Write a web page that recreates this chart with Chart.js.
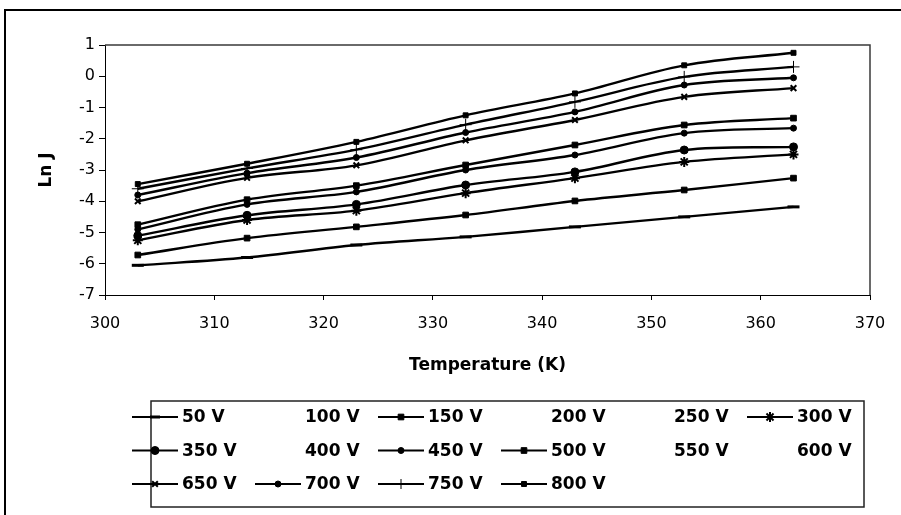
<!DOCTYPE html>
<html>
<head>
<meta charset="utf-8">
<script src="https://cdn.jsdelivr.net/npm/chart.js@4.4.0/dist/chart.umd.min.js"></script>
<style>
  html, body { margin: 0; padding: 0; background: #fff; }
  #wrap { width: 901px; height: 515px; position: relative; }
</style>
</head>
<body>
<div id="wrap"><canvas id="chart" width="901" height="515"></canvas></div>
<script>
// Temperatures at which the current density was measured (K)
const temperatures = [303, 313, 323, 333, 343, 353, 363];

// Applied voltages, in legend order
const voltageLabels = ['50 V', '100 V', '150 V', '200 V', '250 V', '300 V',
                       '350 V', '400 V', '450 V', '500 V', '550 V', '600 V',
                       '650 V', '700 V', '750 V', '800 V'];

// ln J for each voltage (series without measurements stay empty)
const lnJ_50V  = [-6.05, -5.80, -5.40, -5.14, -4.82, -4.50, -4.18];
const lnJ_100V = [];
const lnJ_150V = [-5.72, -5.18, -4.82, -4.44, -3.99, -3.64, -3.26];
const lnJ_200V = [];
const lnJ_250V = [];
const lnJ_300V = [-5.25, -4.60, -4.30, -3.74, -3.26, -2.74, -2.50];
const lnJ_350V = [-5.10, -4.45, -4.10, -3.48, -3.06, -2.36, -2.26];
const lnJ_400V = [];
const lnJ_450V = [-4.90, -4.10, -3.70, -3.00, -2.52, -1.82, -1.66];
const lnJ_500V = [-4.75, -3.95, -3.50, -2.84, -2.20, -1.56, -1.34];
const lnJ_550V = [];
const lnJ_600V = [];
const lnJ_650V = [-4.00, -3.25, -2.85, -2.05, -1.40, -0.66, -0.38];
const lnJ_700V = [-3.80, -3.10, -2.60, -1.80, -1.14, -0.28, -0.05];
const lnJ_750V = [-3.60, -2.95, -2.35, -1.55, -0.82, -0.02, 0.30];
const lnJ_800V = [-3.45, -2.80, -2.10, -1.25, -0.55, 0.35, 0.75];

const seriesValues = [lnJ_50V, lnJ_100V, lnJ_150V, lnJ_200V, lnJ_250V, lnJ_300V,
                      lnJ_350V, lnJ_400V, lnJ_450V, lnJ_500V, lnJ_550V, lnJ_600V,
                      lnJ_650V, lnJ_700V, lnJ_750V, lnJ_800V];

// Marker look per series: [pointStyle, radius, borderWidth]
const markerStyles = [
  ['line', 6, 3], null, ['rect', 4, 1], null, null, ['star', 5, 2],
  ['circle', 4, 1], null, ['circle', 3, 1], ['rect', 4, 1], null, null,
  ['crossRot', 4, 2], ['circle', 3, 1], ['cross', 6, 1], ['rect', 3.5, 1]
];

const FONT = "'DejaVu Sans', 'Liberation Sans', Arial, sans-serif";

const datasets = voltageLabels.map((label, i) => {
  const m = markerStyles[i];
  const pts = seriesValues[i].map((v, k) => ({ x: temperatures[k], y: v }));
  return {
    label,
    data: pts,
    showLine: !!m,
    borderColor: m ? '#000' : 'rgba(0,0,0,0)',
    backgroundColor: '#000',
    borderWidth: 2.4,
    tension: 0.35,
    pointStyle: m ? m[0] : false,
    pointRadius: m ? m[1] : 0,
    pointBorderWidth: m ? m[2] : 0,
    pointBackgroundColor: '#000',
    pointBorderColor: '#000',
    _marker: m
  };
});

// White page, outer frame and the plot-area box
const framePlugin = {
  id: 'frame',
  beforeDraw(chart) {
    const ctx = chart.ctx;
    ctx.save();
    ctx.fillStyle = '#fff';
    ctx.fillRect(0, 0, chart.width, chart.height);
    ctx.strokeStyle = '#000';
    ctx.lineWidth = 2;
    ctx.strokeRect(5, 10, chart.width + 20, chart.height + 20);
    ctx.restore();
  },
  beforeDatasetsDraw(chart) {
    const { ctx, chartArea: a } = chart;
    ctx.save();
    ctx.strokeStyle = '#3a3a3a';
    ctx.lineWidth = 1.5;
    ctx.beginPath();
    ctx.moveTo(a.left, a.top);
    ctx.lineTo(a.right, a.top);
    ctx.lineTo(a.right, a.bottom);
    ctx.stroke();
    ctx.restore();
  }
};

// Boxed legend laid out as a 6-column grid
const gridLegend = {
  id: 'gridLegend',
  afterDraw(chart) {
    const ctx = chart.ctx;
    const box = { x: 151, y: 401, w: 713, h: 106 };
    const cols = 6, colPitch = 123, rowPitch = 33.5;
    ctx.save();
    ctx.strokeStyle = '#222';
    ctx.lineWidth = 1.5;
    ctx.strokeRect(box.x, box.y, box.w, box.h);
    ctx.font = 'bold 17px ' + FONT;
    ctx.textBaseline = 'middle';
    ctx.textAlign = 'left';
    chart.data.datasets.forEach((ds, i) => {
      const row = Math.floor(i / cols), col = i % cols;
      const tx = 182 + col * colPitch;
      const ty = 417 + row * rowPitch;
      const m = ds._marker;
      if (m) {
        const x0 = tx - 50, x1 = tx - 4;
        ctx.strokeStyle = '#000';
        ctx.fillStyle = '#000';
        ctx.lineWidth = 2;
        ctx.beginPath();
        ctx.moveTo(x0, ty);
        ctx.lineTo(x1, ty);
        ctx.stroke();
        ctx.lineWidth = m[2];
        Chart.helpers.drawPoint(ctx, { pointStyle: m[0], radius: Math.min(m[1], 5), rotation: 0, borderWidth: m[2] }, (x0 + x1) / 2, ty);
      }
      ctx.fillStyle = '#000';
      ctx.fillText(ds.label, tx, ty + 1);
    });
    ctx.restore();
  }
};

new Chart(document.getElementById('chart'), {
  type: 'scatter',
  data: { datasets },
  plugins: [framePlugin, gridLegend],
  options: {
    responsive: false,
    animation: false,
    devicePixelRatio: 1,
    layout: { padding: { left: 0, top: 45, right: 31, bottom: 120 } },
    plugins: { legend: { display: false }, tooltip: { enabled: false } },
    scales: {
      x: {
        type: 'linear',
        min: 300, max: 370,
        ticks: { stepSize: 10, padding: 14, color: '#000', font: { family: FONT, size: 16 } },
        grid: { drawOnChartArea: false, drawTicks: true, tickLength: 5, color: '#000' },
        border: { display: true, color: '#000', width: 1 },
        title: { display: true, text: 'Temperature (K)', color: '#000',
                 font: { family: FONT, size: 17, weight: 'bold' }, padding: { top: 0, bottom: 19 } },
        afterFit(scale) { scale.height = 100; }
      },
      y: {
        min: -7, max: 1,
        ticks: { stepSize: 1, padding: 4, color: '#000', font: { family: FONT, size: 16 } },
        grid: { drawOnChartArea: false, drawTicks: true, tickLength: 6, color: '#000' },
        border: { display: true, color: '#000', width: 1 },
        title: { display: true, text: 'Ln J', color: '#000',
                 font: { family: FONT, size: 17, weight: 'bold' }, padding: { top: 36, bottom: 0 } },
        afterFit(scale) { scale.width = 105; }
      }
    }
  }
});
</script>
</body>
</html>
